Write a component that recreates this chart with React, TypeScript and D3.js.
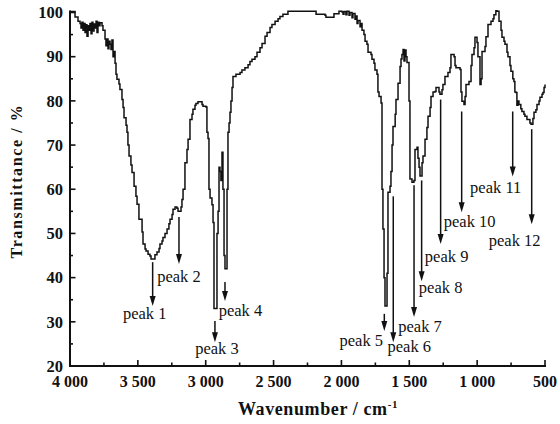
import React from "react";
import * as d3 from "d3";

// FT-IR spectrum: wavenumber (cm-1) and transmittance (%)
const wavenumbers = [
  4000, 3971, 3963, 3948, 3941, 3926, 3919, 3912, 3904, 3897, 3889, 3882, 3875, 3867, 3860, 3853,
  3845, 3838, 3831, 3823, 3816, 3808, 3801, 3794, 3786, 3779, 3764, 3757, 3742, 3735, 3727, 3720,
  3713, 3705, 3698, 3691, 3683, 3676, 3668, 3661, 3654, 3639, 3632, 3617, 3609, 3602, 3587, 3580,
  3573, 3565, 3551, 3543, 3528, 3514, 3506, 3492, 3469, 3462, 3447, 3440, 3425, 3411, 3403, 3374,
  3359, 3344, 3337, 3322, 3315, 3300, 3285, 3271, 3263, 3248, 3241, 3226, 3212, 3204, 3182, 3175,
  3167, 3153, 3138, 3130, 3116, 3101, 3094, 3079, 3072, 3057, 3035, 3027, 3020, 2998, 2991, 2983,
  2976, 2968, 2954, 2946, 2939, 2924, 2917, 2909, 2902, 2895, 2888, 2880, 2873, 2865, 2858, 2850,
  2843, 2836, 2828, 2821, 2814, 2806, 2799, 2777, 2747, 2733, 2711, 2688, 2674, 2659, 2637, 2622,
  2600, 2585, 2563, 2548, 2526, 2512, 2489, 2467, 2453, 2431, 2394, 2195, 2187, 2121, 2114, 2062,
  2055, 2025, 2018, 1996, 1988, 1981, 1967, 1959, 1944, 1937, 1922, 1915, 1900, 1893, 1885, 1878,
  1863, 1856, 1848, 1834, 1826, 1812, 1804, 1782, 1775, 1760, 1753, 1738, 1731, 1723, 1708, 1701,
  1694, 1686, 1679, 1672, 1664, 1657, 1642, 1635, 1627, 1620, 1604, 1598, 1583, 1568, 1561, 1554,
  1546, 1539, 1532, 1524, 1517, 1502, 1495, 1480, 1466, 1458, 1443, 1436, 1428, 1421, 1414, 1406,
  1399, 1384, 1370, 1362, 1347, 1340, 1325, 1310, 1303, 1288, 1281, 1274, 1266, 1259, 1252, 1237,
  1215, 1200, 1193, 1170, 1163, 1156, 1126, 1119, 1112, 1097, 1089, 1082, 1060, 1045, 1038, 1023,
  1016, 1001, 994, 979, 971, 964, 942, 935, 920, 898, 883, 876, 862, 854, 839, 824,
  817, 802, 795, 780, 773, 758, 751, 737, 729, 722, 714, 707, 699, 692, 678, 670,
  655, 648, 633, 618, 611, 603, 596, 589, 581, 567, 559, 544, 537, 522, 515, 507,
  500,
];

const transmittance = [
  100.2, 100.2, 99, 99, 98, 97.5, 96.5, 97.8, 96, 97.5, 95.5, 97.2, 94.6, 97, 96, 97.5,
  95.2, 97.8, 95.8, 97.4, 96.5, 98, 95.5, 97.8, 97, 97.7, 97, 96, 94, 92.5, 94, 91.8,
  93.5, 92.8, 91.6, 93.8, 90, 91.2, 88.5, 86, 84.9, 83.8, 82.6, 80.3, 78.5, 76.2, 74.5, 72.9,
  70, 67.5, 65.5, 63.8, 60.7, 58.4, 56.6, 53.2, 50.3, 47.6, 46.5, 46, 45.3, 44.9, 44.2, 45.2,
  45.8, 46.6, 47.6, 48.3, 49.1, 50, 51, 52.2, 53.2, 54.3, 55.5, 56, 55.7, 55, 56, 57.7,
  60, 66, 69, 71.3, 75.8, 77, 78.1, 79, 79.4, 79.8, 79.8, 79.2, 78.8, 78.6, 72.9, 71.5,
  60, 58, 56.5, 52.5, 33, 33, 50, 55, 65, 64, 62, 68.4, 60, 45, 42, 42,
  60, 72.9, 75, 77.4, 80, 83, 85.5, 86, 86.4, 87, 87.5, 88.2, 88.9, 89.4, 90, 91,
  92, 93, 94.6, 95.5, 96.6, 97.3, 98, 98.6, 99.1, 99.6, 100.3, 100.3, 99.6, 99.4, 98.9, 98.9,
  99.7, 99.7, 100.3, 100.1, 99.6, 100.2, 99.5, 100.3, 99.4, 100, 98.8, 99.8, 98.5, 99.2, 97.5, 98.2,
  96.8, 97.5, 96, 95, 93.5, 92.8, 91, 90.5, 89.4, 88.5, 87, 86, 82, 81, 79.5, 60,
  51, 40, 33.6, 33.6, 41, 59.3, 60.7, 64, 70, 74.2, 77, 80.3, 84, 87.8, 89.5, 90.5,
  91.6, 89, 91.5, 90, 88.7, 80, 62.3, 61.6, 62, 69, 69.5, 67, 65, 63, 63, 66,
  67.5, 71.3, 74, 76.5, 78.5, 81, 82, 82.1, 83, 83, 82, 81.5, 81.5, 82.5, 83.7, 85.5,
  86.4, 87.5, 90.5, 90, 88, 87.5, 87.1, 82, 79.9, 79.2, 81, 83.7, 84.4, 88, 90.5, 92,
  94.4, 93.2, 90, 83.7, 85, 91.2, 92.3, 94.5, 97.3, 98, 98.6, 99.5, 100.4, 100.3, 98, 96,
  94.4, 93.5, 92.8, 91, 90, 88, 86.7, 85, 84.4, 82, 81.9, 79, 80, 79.2, 78.2, 77.6,
  77, 76.5, 75.8, 75.8, 75, 74.7, 74.7, 76, 77.4, 78, 79.2, 80, 80.8, 81.5, 81.9, 83,
  83.7,
];

// Peak annotations: position, arrow start and arrow tip (transmittance)
const peakNames = [
  "peak 1", "peak 2", "peak 3", "peak 4", "peak 5", "peak 6",
  "peak 7", "peak 8", "peak 9", "peak 10", "peak 11", "peak 12",
];
const peakWavenumbers = [3391, 3197, 2932, 2858, 1684, 1618, 1465, 1409, 1269, 1114, 738, 598];
const peakArrowFrom = [43.5, 53.7, 30.2, 39, 31.8, 58.4, 60.9, 62, 80.3, 77.6, 77.6, 73.6];
const peakArrowTo = [33.6, 43.1, 25.4, 34.7, 27.9, 25.4, 31.1, 39.2, 47.6, 54.8, 62.9, 52.1];

// Label offsets (px) from each arrow tip
const labelOffsets: [number, number][] = [
  [-8, 13], [0, 18], [2, 12], [15.5, 15], [-23, 15], [16, 10],
  [6, 15], [19, 12], [6, 18], [8, 15], [-17, 17], [-17, 22],
];

const xTicksMajor = [4000, 3500, 3000, 2500, 2000, 1500, 1000, 500];
const yTicksMajor = [20, 30, 40, 50, 60, 70, 80, 90, 100];

const W = 560;
const H = 424;
const X0 = 70;
const X1 = 545;
const Y0 = 366;
const Y1 = 12.5;
const INK = "#111";
const SERIF = "'Liberation Serif', 'Times New Roman', Times, serif";

function fmtWn(d: number) {
  if (d >= 1000) return `${Math.floor(d / 1000)} ${String(d % 1000).padStart(3, "0")}`;
  return String(d);
}

export default function App() {
  const x = d3.scaleLinear().domain([4000, 500]).range([X0, X1]);
  const y = d3.scaleLinear().domain([20, 100]).range([Y0, Y1]);

  const pts: [number, number][] = wavenumbers.map((w, i) => [w, transmittance[i]]);
  const line = d3
    .line<[number, number]>()
    .x((d) => x(d[0]))
    .y((d) => y(d[1]))
    .curve(d3.curveStepAfter);

  const xMinor = d3.range(3750, 500, -500);
  const yMinor = d3.range(25, 100, 10);

  return (
    <svg
      width={W}
      height={H}
      viewBox={`0 0 ${W} ${H}`}
      style={{ position: "absolute", left: 0, top: 0, background: "#fff" }}
    >
      <rect x={0} y={0} width={W} height={H} fill="#fff" />

      {/* spectrum */}
      <path d={line(pts) ?? ""} fill="none" stroke={INK} strokeWidth={1.5} strokeLinejoin="miter" />

      {/* axes */}
      <line x1={X0} y1={Y0 + 1} x2={X0} y2={y(100) - 2} stroke={INK} strokeWidth={2} />
      <line x1={X0 - 1} y1={Y0} x2={X1 + 1} y2={Y0} stroke={INK} strokeWidth={2} />

      {xTicksMajor.map((t) => (
        <g key={`xt${t}`}>
          <line x1={x(t)} x2={x(t)} y1={Y0} y2={Y0 - 6} stroke={INK} strokeWidth={1.6} />
          <text
            x={x(t)}
            y={387}
            textAnchor="middle"
            fontFamily={SERIF}
            fontWeight="bold"
            fontSize={16}
            fill={INK}
          >
            {fmtWn(t)}
          </text>
        </g>
      ))}
      {xMinor.map((t) => (
        <line key={`xm${t}`} x1={x(t)} x2={x(t)} y1={Y0} y2={Y0 - 3.5} stroke={INK} strokeWidth={1.6} />
      ))}

      {yTicksMajor.map((t) => (
        <g key={`yt${t}`}>
          <line x1={X0} x2={X0 + 5.5} y1={y(t)} y2={y(t)} stroke={INK} strokeWidth={1.6} />
          <text
            x={63}
            y={y(t)}
            dy="0.35em"
            textAnchor="end"
            fontFamily={SERIF}
            fontWeight="bold"
            fontSize={16.5}
            fill={INK}
          >
            {t}
          </text>
        </g>
      ))}
      {yMinor.map((t) => (
        <line key={`ym${t}`} x1={X0} x2={X0 + 3} y1={y(t)} y2={y(t)} stroke={INK} strokeWidth={1.6} />
      ))}

      {/* axis titles */}
      <text
        transform={`translate(22, 181) rotate(-90)`}
        textAnchor="middle"
        fontFamily={SERIF}
        fontWeight="bold"
        fontSize={16}
        letterSpacing={1.6}
        fill={INK}
      >
        Transmittance / %
      </text>
      <text
        x={318}
        y={415}
        textAnchor="middle"
        fontFamily={SERIF}
        fontWeight="bold"
        fontSize={18}
        letterSpacing={0.6}
        fill={INK}
      >
        Wavenumber / cm
        <tspan dy={-7} fontSize={11}>
          -1
        </tspan>
      </text>

      {/* peak arrows and labels */}
      {peakNames.map((name, i) => {
        const px = x(peakWavenumbers[i]);
        const yFrom = y(peakArrowFrom[i]);
        const yTo = y(peakArrowTo[i]);
        const headLen = 10;
        const headHalf = 3;
        const [dx, dy] = labelOffsets[i];
        return (
          <g key={name}>
            <line x1={px} x2={px} y1={yFrom} y2={yTo - headLen + 1} stroke={INK} strokeWidth={1.5} />
            <path
              d={`M${px - headHalf},${yTo - headLen} L${px + headHalf},${yTo - headLen} L${px},${yTo} Z`}
              fill={INK}
            />
            <text
              x={px + dx}
              y={yTo + dy}
              textAnchor="middle"
              fontFamily={SERIF}
              fontSize={16.5}
              fill={INK}
            >
              {name}
            </text>
          </g>
        );
      })}
    </svg>
  );
}
